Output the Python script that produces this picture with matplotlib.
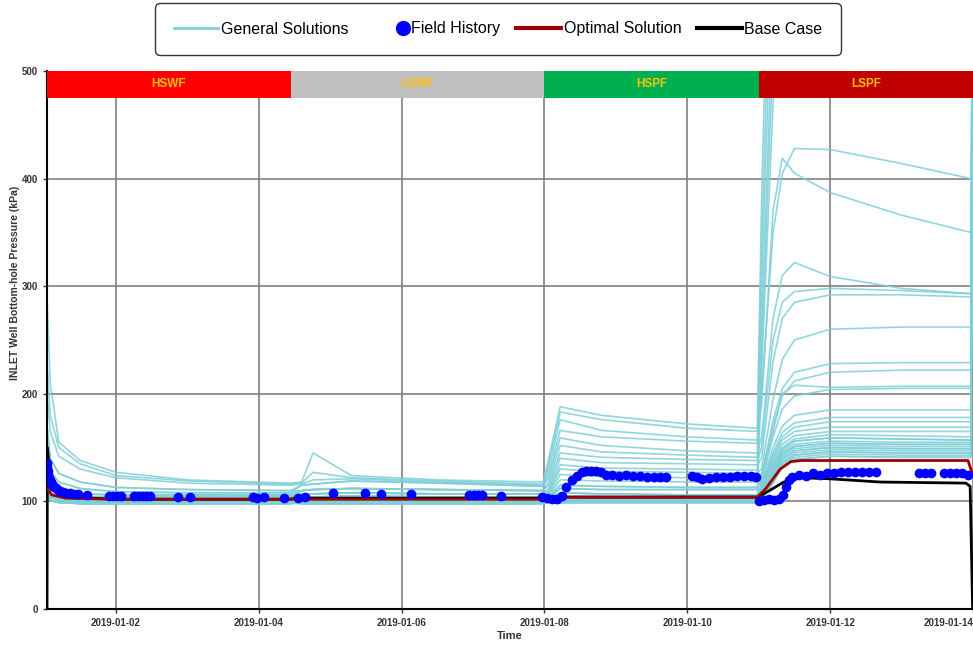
import numpy as np
import matplotlib
matplotlib.use("Agg")
import matplotlib.pyplot as plt
import matplotlib.dates as mdates
from matplotlib.lines import Line2D
from matplotlib.legend_handler import HandlerBase
import matplotlib.transforms as mtransforms

plt.rcParams['font.family'] = ['Liberation Sans', 'DejaVu Sans']

# ---------------- data (time in days after 2019-01-01 00:00) ----------------
BASE_DATE = "2019-01-01"

# knot times shared by all general solutions
knot_days = [0.035, 0.08, 0.2, 0.5, 1.0, 2.0, 3.44,          # HSWF
             3.6, 3.76, 4.3, 5.5, 6.98,                       # LSWF
             7.06, 7.22, 7.8, 9.0, 9.98,                      # HSPF
             10.04, 10.2, 10.33, 10.5, 11.0, 12.0, 12.97, 13.0]  # LSPF

hswf_profiles = {
    'a': [290, 210, 155, 138, 127, 120, 117],
    'b': [230, 180, 150, 135, 124, 119, 116],
    'c': [200, 165, 142, 130, 122, 117, 115],
    'd': [170, 140, 126, 118, 113, 111, 110],
    'e': [150, 128, 118, 112, 109, 108, 108],
    'f': [135, 118, 110, 107, 106, 106, 106],
    'g': [125, 112, 106, 104, 104, 104, 104],
    'h': [118, 108, 103, 102, 102, 102, 102],
    'i': [112, 104, 101, 100, 100, 100, 100],
    'j': [108, 101, 99, 98, 98, 98, 98],
}
lswf_profiles = {
    's': [118, 145, 124, 120, 118],
    'u': [117, 127, 122, 119, 116],
    'v': [116, 120, 121, 118, 115],
    'w': [115, 116, 119, 117, 114],
    'x': [110, 111, 112, 111, 110],
    'y': [107, 107, 108, 107, 107],
    'z': [104, 104, 105, 104, 104],
    'p': [102, 102, 102, 102, 102],
    'q': [100, 100, 100, 100, 100],
    'r': [98, 98, 98, 98, 98],
}
hspf_profiles = {
    'H1': [140, 188, 180, 172, 168],
    'H2': [135, 183, 176, 168, 165],
    'H3': [130, 176, 166, 160, 157],
    'H4': [125, 166, 160, 156, 154],
    'H5': [122, 159, 152, 147, 145],
    'H6': [118, 152, 146, 143, 141],
    'H7': [115, 145, 141, 139, 138],
    'H8': [112, 140, 136, 135, 134],
    'H9': [110, 134, 131, 130, 129],
    'H10': [108, 130, 128, 127, 126],
    'H11': [106, 125, 123, 122, 122],
    'H12': [105, 120, 119, 118, 118],
    'H13': [104, 115, 114, 113, 113],
    'H14': [103, 112, 111, 111, 111],
    'H15': [102, 108, 107, 106, 106],
    'H16': [101, 104, 103, 103, 103],
    'H17': [100, 101, 101, 101, 101],
    'H18': [99, 99, 99, 99, 99],
}
lspf_profiles = {
    'O1': [380, 800, 900, 900, 900, 900, 900, 900],
    'O2': [330, 700, 850, 880, 880, 880, 880, 900],
    'O3': [300, 620, 780, 820, 820, 820, 820, 900],
    'O4': [260, 560, 700, 740, 740, 740, 740, 900],
    'O5': [240, 520, 640, 680, 680, 680, 680, 900],
    'O6': [220, 470, 580, 610, 610, 610, 610, 900],
    'L1': [200, 350, 405, 428, 427, 414, 400, 600],
    'L2': [190, 370, 419, 405, 387, 366, 350, 600],
    'L3': [160, 270, 310, 322, 309, 298, 293, 600],
    'L4': [150, 250, 285, 295, 298, 296, 293, 600],
    'L5': [140, 230, 270, 285, 292, 292, 290, 600],
    'L6': [130, 195, 232, 250, 260, 262, 262, 600],
    'L7': [125, 175, 205, 220, 228, 229, 229, 600],
    'L8': [122, 170, 198, 212, 220, 222, 222, 600],
    'L9': [120, 165, 200, 208, 206, 207, 207, 600],
    'L10': [118, 160, 186, 198, 204, 205, 205, 600],
    'L11': [116, 150, 170, 180, 185, 185, 185, 600],
    'L12': [115, 145, 164, 173, 178, 178, 178, 600],
    'L13': [114, 142, 160, 169, 174, 174, 174, 600],
    'L14': [113, 140, 157, 165, 169, 169, 169, 600],
    'L15': [112, 138, 153, 161, 165, 165, 165, 600],
    'M1': [110, 135, 150, 158, 162, 161, 160, 600],
    'M2': [109, 133, 148, 156, 159, 158, 157, 600],
    'M3': [108, 131, 146, 153, 156, 155, 155, 600],
    'M4': [107, 129, 144, 151, 154, 153, 153, 600],
    'M5': [106, 127, 142, 149, 152, 151, 151, 600],
    'M6': [105, 125, 140, 147, 150, 149, 149, 600],
    'M7': [104, 123, 138, 145, 148, 147, 147, 600],
    'M8': [104, 121, 136, 143, 146, 145, 145, 600],
    'M9': [103, 119, 134, 141, 144, 143, 143, 600],
    'M10': [102, 117, 132, 139, 142, 141, 141, 600],
}
general_solutions = [
    ('a', 's', 'H1', 'O1'), ('b', 'u', 'H2', 'L1'), ('c', 'v', 'H3', 'L2'),
    ('d', 'w', 'H4', 'O2'), ('e', 'w', 'H5', 'L3'), ('f', 'x', 'H6', 'O3'),
    ('g', 'x', 'H7', 'L4'), ('g', 'y', 'H8', 'L5'), ('h', 'y', 'H9', 'O4'),
    ('h', 'y', 'H10', 'L6'), ('i', 'z', 'H11', 'L7'), ('i', 'z', 'H12', 'O5'),
    ('j', 'z', 'H13', 'L8'), ('f', 'p', 'H14', 'L9'), ('g', 'p', 'H15', 'O6'),
    ('h', 'p', 'H16', 'L10'), ('i', 'q', 'H17', 'L11'), ('j', 'q', 'H18', 'L12'),
    ('h', 'q', 'H16', 'L13'), ('g', 'r', 'H15', 'L14'), ('i', 'r', 'H17', 'L15'),
    ('j', 'r', 'H18', 'M1'), ('h', 'p', 'H17', 'M2'), ('i', 'q', 'H16', 'M3'),
    ('j', 'z', 'H18', 'M4'), ('g', 'p', 'H17', 'M5'), ('h', 'q', 'H18', 'M6'),
    ('i', 'r', 'H16', 'M7'), ('j', 'p', 'H17', 'M8'), ('h', 'z', 'H18', 'M9'),
    ('i', 'q', 'H17', 'M10'), ('e', 'x', 'H14', 'M2'), ('f', 'y', 'H15', 'M4'),
    ('d', 'x', 'H13', 'M6'), ('j', 'q', 'H18', 'M8'), ('i', 'r', 'H17', 'M10'),
]

optimal_days = [0.035, 0.1, 0.3, 1.0, 3.44, 3.5, 6.98, 7.05, 9.98, 10.1, 10.3, 10.45, 10.6, 12.93, 12.99]
optimal_kpa = [112, 106, 103, 102, 102, 102, 102, 104, 104, 112, 130, 137, 138, 138, 126]

base_days = [0.035, 0.04, 0.1, 0.3, 1.0, 3.44, 3.5, 6.98, 7.05, 9.98, 10.15, 10.35, 10.6, 11.0, 11.7, 12.9, 12.96, 12.995]
base_kpa = [0, 150, 112, 104, 102, 102, 103, 103, 104, 104, 110, 118, 122, 121, 118, 117, 114, 0]

field_days = [0.035, 0.042, 0.049, 0.056, 0.063, 0.077, 0.091, 0.105, 0.119, 0.133, 0.161, 0.189,
              0.217, 0.259, 0.301, 0.357, 0.413, 0.469, 0.594, 0.902, 0.958, 1.014, 1.070, 1.252,
              1.308, 1.364, 1.420, 1.476, 1.866, 2.035, 2.916, 2.972, 3.070, 3.350, 3.545, 3.643,
              4.035, 4.483, 4.706, 5.126, 5.937, 6.007, 6.063, 6.119, 6.385, 6.972, 7.042, 7.112,
              7.182, 7.252, 7.308, 7.392, 7.462, 7.531, 7.587, 7.657, 7.727, 7.797, 7.867, 7.951,
              8.049, 8.147, 8.245, 8.343, 8.441, 8.538, 8.622, 8.706, 9.070, 9.140, 9.210, 9.308,
              9.406, 9.503, 9.601, 9.699, 9.797, 9.895, 9.965, 10.007, 10.077, 10.147, 10.217,
              10.287, 10.343, 10.385, 10.427, 10.469, 10.566, 10.664, 10.762, 10.860, 10.958,
              11.056, 11.154, 11.252, 11.350, 11.448, 11.545, 11.643, 12.245, 12.329, 12.413,
              12.594, 12.678, 12.762, 12.846, 12.930]
field_kpa = [136, 132, 128, 125, 122, 120, 118, 116, 114, 113, 112, 111,
             110, 109, 108, 108, 107, 107, 106, 105, 105, 105, 105, 105,
             105, 105, 105, 105, 104, 104, 104, 103, 104, 103, 103, 104,
             108, 108, 107, 107, 106, 106, 106, 106, 105, 104, 103, 102,
             102, 105, 113, 120, 124, 127, 128, 128, 128, 127, 125, 125,
             124, 125, 124, 124, 123, 123, 123, 123, 124, 123, 121, 122,
             123, 123, 123, 124, 124, 124, 123, 100, 101, 102, 101,
             102, 106, 113, 120, 123, 125, 124, 126, 125, 126,
             126, 127, 127, 127, 127, 127, 127, 126, 126, 126,
             126, 126, 126, 126, 125]

phase_names = ['HSWF', 'LSWF', 'HSPF', 'LSPF']
phase_bounds = [0.035, 3.45, 7.0, 10.0, 13.0]
phase_colors = ['#ff0000', '#bfbfbf', '#00b050', '#c00000']

tick_days = [1, 3, 5, 7, 9, 11, 13]
y_ticks = [0, 100, 200, 300, 400, 500]

# ---------------- plotting ----------------
base_num = mdates.datestr2num(BASE_DATE)

def to_x(days):
    return base_num + np.asarray(days, dtype=float)

fig = plt.figure(figsize=(9.73, 6.46), dpi=100)
ax = fig.add_axes([47 / 973, 1 - 609 / 646, 1 - 47 / 973, (609 - 71) / 646])

gen_color = '#7fcfd8'
for hk, lk, pk, sk in general_solutions:
    vals = hswf_profiles[hk] + lswf_profiles[lk] + hspf_profiles[pk] + lspf_profiles[sk]
    ax.plot(to_x(knot_days), vals, color=gen_color, lw=1.2, alpha=0.85, zorder=2)

ax.plot(to_x(base_days), base_kpa, color='black', lw=2, zorder=3)
ax.plot(to_x(optimal_days), optimal_kpa, color='#a00000', lw=2, zorder=3)
ax.plot(to_x(field_days), field_kpa, 'o', color='#0000ff', ms=7, mec='none', zorder=4)

ax.set_xlim(to_x([0.035])[0], to_x([13.0])[0])
ax.set_ylim(0, 500)

# phase bands
trans = mtransforms.blended_transform_factory(ax.transData, ax.transAxes)
for i, name in enumerate(phase_names):
    x0, x1 = to_x([phase_bounds[i], phase_bounds[i + 1]])
    ax.add_patch(plt.Rectangle((x0, 0.95), x1 - x0, 0.05, transform=trans,
                               facecolor=phase_colors[i], edgecolor='none',
                               zorder=6, clip_on=False))
    ax.text((x0 + x1) / 2, 0.975, name, transform=trans, ha='center', va='center',
            fontsize=8.5, fontweight='bold', color='#ffc000', zorder=7)

ax.set_xticks(to_x(tick_days))
ax.xaxis.set_major_formatter(mdates.DateFormatter('%Y-%m-%d'))
ax.set_yticks(y_ticks)
ax.grid(True, color='#808080', lw=1.2, zorder=1)
ax.set_axisbelow(True)
ax.tick_params(axis='both', labelsize=7, colors='#333333', length=3, width=1)
for lab in ax.get_xticklabels() + ax.get_yticklabels():
    lab.set_fontweight('bold')
ax.get_xticklabels()[-1].set_horizontalalignment('right')

for s in ['top', 'right']:
    ax.spines[s].set_visible(False)
for s in ['left', 'bottom']:
    ax.spines[s].set_color('black')
    ax.spines[s].set_linewidth(1.5)

fig.text(15 / 973, 1 - 283 / 646, 'INLET Well Bottom-hole Pressure (kPa)', rotation=90,
         ha='center', va='center', fontsize=7.5, fontweight='bold', color='#333333')
fig.text(510 / 973, 1 - 636 / 646, 'Time', ha='center', va='center',
         fontsize=8, fontweight='bold', color='#333333')


class RightDotHandler(HandlerBase):
    """Draw a single marker at the right end of the legend handle box."""
    def create_artists(self, legend, orig_handle, xdescent, ydescent, width, height,
                       fontsize, trans):
        x = width - xdescent - 0.35 * fontsize
        y = height / 2 - ydescent
        dot = Line2D([x], [y], marker='o', ls='none', color=orig_handle.get_color(),
                     markersize=orig_handle.get_markersize(), transform=trans)
        return [dot]


fh_handle = Line2D([], [], color='#0000ff', marker='o', ls='none', ms=10)
handles = [
    Line2D([], [], color=gen_color, lw=2),
    fh_handle,
    Line2D([], [], color='#a00000', lw=3),
    Line2D([], [], color='black', lw=3),
]
labels = ['General Solutions', 'Field History', 'Optimal Solution', 'Base Case']
leg = fig.legend(handles, labels, loc='center', bbox_to_anchor=(498 / 973, 1 - 29 / 646),
                 ncol=4, fontsize=11.5, frameon=True, fancybox=True, handlelength=2.8,
                 handletextpad=0.15, columnspacing=1.0, borderpad=1.15,
                 handler_map={fh_handle: RightDotHandler()})
leg.get_frame().set_edgecolor('black')
leg.get_frame().set_linewidth(1.0)
leg.get_frame().set_boxstyle('round,pad=0,rounding_size=0.3')

fig.savefig('out.png', dpi=100)
